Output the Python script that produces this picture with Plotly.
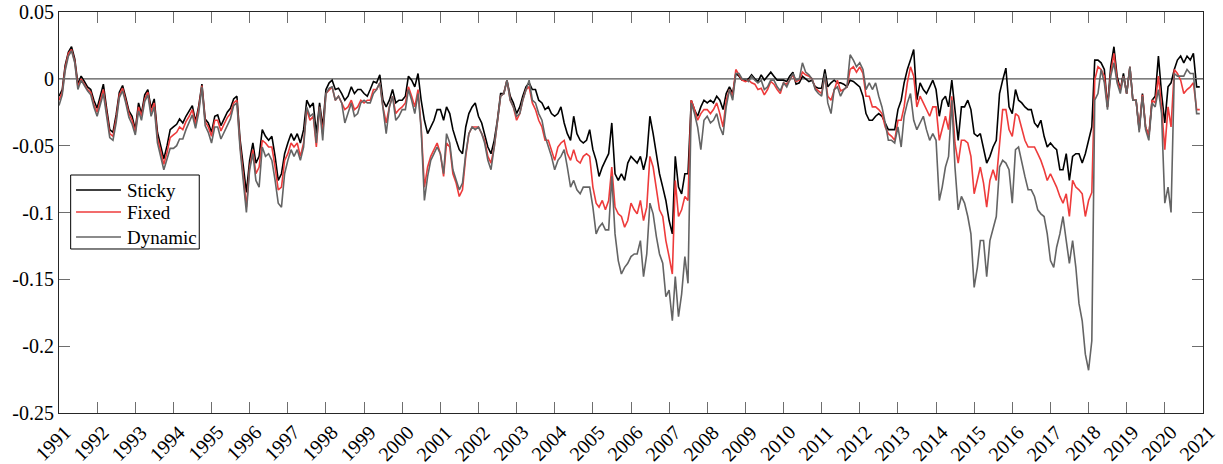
import pandas as pd
import plotly.graph_objects as go

# Monthly observations, Jan 1991 - Dec 2020
dates = pd.date_range("1991-01-01", periods=360, freq="MS")

sticky = [
    # 1991
    -0.013, -0.008, 0.010, 0.020, 0.024, 0.015, -0.004, 0.002, -0.002, -0.006, -0.008, -0.016,
    # 1992
    -0.022, -0.012, -0.004, -0.022, -0.038, -0.040, -0.027, -0.010, -0.005, -0.014, -0.024, -0.028,
    # 1993
    -0.038, -0.018, -0.026, -0.012, -0.008, -0.022, -0.015, -0.040, -0.050, -0.060, -0.050, -0.038,
    # 1994
    -0.036, -0.034, -0.030, -0.033, -0.028, -0.024, -0.020, -0.032, -0.020, -0.004, -0.030, -0.033,
    # 1995
    -0.040, -0.028, -0.027, -0.035, -0.030, -0.025, -0.022, -0.015, -0.013, -0.045, -0.065, -0.085,
    # 1996
    -0.061, -0.048, -0.063, -0.058, -0.038, -0.043, -0.046, -0.043, -0.058, -0.076, -0.071, -0.056,
    # 1997
    -0.048, -0.041, -0.046, -0.041, -0.048, -0.038, -0.016, -0.021, -0.018, -0.041, -0.018, -0.036,
    # 1998
    -0.008, -0.003, -0.001, -0.008, -0.007, -0.011, -0.016, -0.013, -0.006, -0.011, -0.008, -0.008,
    # 1999
    -0.011, -0.013, -0.008, -0.002, -0.003, 0.003, -0.016, -0.021, -0.016, -0.008, -0.018, -0.016,
    # 2000
    -0.016, -0.013, 0.002, -0.001, -0.006, 0.004, -0.016, -0.031, -0.041, -0.036, -0.031, -0.023,
    # 2001
    -0.023, -0.031, -0.021, -0.026, -0.038, -0.046, -0.053, -0.056, -0.036, -0.026, -0.021, -0.018,
    # 2002
    -0.028, -0.033, -0.041, -0.051, -0.056, -0.046, -0.031, -0.011, -0.011, -0.001, -0.013, -0.018,
    # 2003
    -0.026, -0.021, -0.013, -0.006, -0.003, -0.008, -0.008, -0.016, -0.018, -0.023, -0.021, -0.026,
    # 2004
    -0.028, -0.026, -0.021, -0.033, -0.041, -0.046, -0.028, -0.041, -0.046, -0.048, -0.046, -0.038,
    # 2005
    -0.053, -0.061, -0.073, -0.066, -0.061, -0.056, -0.033, -0.071, -0.076, -0.071, -0.076, -0.063,
    # 2006
    -0.058, -0.061, -0.063, -0.058, -0.068, -0.058, -0.028, -0.041, -0.058, -0.071, -0.081, -0.091,
    # 2007
    -0.106, -0.116, -0.058, -0.081, -0.086, -0.071, -0.071, -0.016, -0.023, -0.028, -0.021, -0.016,
    # 2008
    -0.018, -0.016, -0.018, -0.013, -0.016, -0.023, -0.011, -0.006, -0.011, 0.004, 0.002, -0.001,
    # 2009
    -0.001, 0.000, 0.003, 0.000, -0.002, 0.003, -0.001, 0.002, 0.005, 0.002, -0.001, -0.001,
    # 2010
    -0.001, -0.002, 0.002, 0.005, -0.004, -0.003, 0.002, 0.000, -0.002, -0.001, -0.006, -0.007,
    # 2011
    -0.007, 0.007, -0.006, -0.003, -0.001, -0.003, -0.003, -0.004, -0.006, -0.001, -0.002, -0.004,
    # 2012
    -0.006, -0.013, -0.026, -0.031, -0.031, -0.028, -0.026, -0.028, -0.033, -0.038, -0.038, -0.038,
    # 2013
    -0.023, -0.016, -0.003, 0.007, 0.014, 0.022, -0.016, -0.003, -0.008, -0.011, -0.006, -0.001,
    # 2014
    -0.008, -0.028, -0.016, -0.013, -0.021, -0.001, -0.023, -0.046, -0.021, -0.021, -0.016, -0.023,
    # 2015
    -0.041, -0.043, -0.041, -0.051, -0.063, -0.058, -0.051, -0.046, -0.011, -0.001, 0.008, -0.021,
    # 2016
    -0.026, -0.008, -0.016, -0.018, -0.021, -0.023, -0.023, -0.033, -0.036, -0.031, -0.043, -0.051,
    # 2017
    -0.048, -0.051, -0.053, -0.068, -0.068, -0.056, -0.076, -0.058, -0.056, -0.056, -0.063, -0.056,
    # 2018
    -0.046, -0.036, 0.014, 0.014, 0.012, 0.007, -0.021, 0.009, 0.024, 0.002, -0.008, 0.004,
    # 2019
    -0.011, 0.009, -0.016, -0.016, -0.038, -0.011, -0.036, -0.043, -0.016, -0.013, 0.017, -0.011,
    # 2020
    -0.033, -0.006, -0.003, 0.007, 0.014, 0.017, 0.012, 0.017, 0.014, 0.019, -0.006, -0.006,
]

fixed = [
    # 1991
    -0.016, -0.010, 0.008, 0.019, 0.022, 0.013, -0.006, 0.000, -0.004, -0.008, -0.010, -0.019,
    # 1992
    -0.025, -0.016, -0.008, -0.025, -0.041, -0.043, -0.030, -0.012, -0.007, -0.016, -0.026, -0.031,
    # 1993
    -0.040, -0.021, -0.028, -0.015, -0.010, -0.025, -0.018, -0.044, -0.054, -0.064, -0.055, -0.044,
    # 1994
    -0.042, -0.040, -0.036, -0.038, -0.032, -0.028, -0.023, -0.034, -0.022, -0.005, -0.032, -0.036,
    # 1995
    -0.043, -0.031, -0.031, -0.039, -0.034, -0.029, -0.026, -0.018, -0.016, -0.049, -0.072, -0.096,
    # 1996
    -0.066, -0.053, -0.071, -0.066, -0.046, -0.048, -0.051, -0.051, -0.066, -0.083, -0.081, -0.061,
    # 1997
    -0.056, -0.048, -0.051, -0.048, -0.058, -0.048, -0.023, -0.031, -0.028, -0.051, -0.021, -0.041,
    # 1998
    -0.011, -0.008, -0.006, -0.016, -0.013, -0.018, -0.023, -0.021, -0.016, -0.023, -0.021, -0.016,
    # 1999
    -0.018, -0.016, -0.016, -0.008, -0.008, -0.003, -0.021, -0.033, -0.021, -0.013, -0.026, -0.023,
    # 2000
    -0.021, -0.018, -0.006, -0.013, -0.021, -0.008, -0.036, -0.081, -0.066, -0.058, -0.053, -0.048,
    # 2001
    -0.056, -0.073, -0.048, -0.051, -0.071, -0.078, -0.088, -0.083, -0.058, -0.041, -0.036, -0.036,
    # 2002
    -0.036, -0.041, -0.046, -0.058, -0.063, -0.051, -0.031, -0.013, -0.011, -0.001, -0.016, -0.021,
    # 2003
    -0.031, -0.026, -0.016, -0.008, -0.006, -0.018, -0.023, -0.031, -0.036, -0.046, -0.046, -0.053,
    # 2004
    -0.061, -0.051, -0.048, -0.046, -0.056, -0.061, -0.053, -0.061, -0.063, -0.058, -0.056, -0.058,
    # 2005
    -0.081, -0.093, -0.096, -0.091, -0.098, -0.091, -0.066, -0.096, -0.101, -0.103, -0.111, -0.106,
    # 2006
    -0.093, -0.098, -0.101, -0.091, -0.106, -0.096, -0.058, -0.066, -0.083, -0.098, -0.103, -0.121,
    # 2007
    -0.133, -0.146, -0.076, -0.103, -0.098, -0.088, -0.091, -0.016, -0.023, -0.031, -0.026, -0.023,
    # 2008
    -0.023, -0.026, -0.023, -0.018, -0.026, -0.036, -0.016, -0.008, -0.013, 0.007, 0.003, -0.001,
    # 2009
    -0.002, -0.001, -0.003, -0.004, -0.008, -0.007, -0.012, -0.008, -0.002, -0.004, -0.008, -0.011,
    # 2010
    -0.003, -0.004, -0.001, 0.003, -0.002, -0.001, 0.005, 0.003, 0.002, 0.000, -0.007, -0.009,
    # 2011
    -0.011, 0.002, -0.013, -0.016, -0.008, -0.001, -0.009, -0.008, -0.006, 0.007, 0.009, 0.005,
    # 2012
    0.009, 0.004, -0.013, -0.013, -0.021, -0.021, -0.023, -0.026, -0.036, -0.041, -0.043, -0.046,
    # 2013
    -0.031, -0.031, -0.021, -0.003, 0.009, 0.002, -0.021, -0.013, -0.018, -0.023, -0.028, -0.021,
    # 2014
    -0.021, -0.046, -0.038, -0.028, -0.038, -0.013, -0.048, -0.063, -0.046, -0.046, -0.048, -0.058,
    # 2015
    -0.086, -0.076, -0.066, -0.078, -0.096, -0.076, -0.068, -0.076, -0.046, -0.023, -0.023, -0.038,
    # 2016
    -0.043, -0.026, -0.028, -0.038, -0.046, -0.051, -0.051, -0.051, -0.056, -0.061, -0.068, -0.076,
    # 2017
    -0.071, -0.076, -0.081, -0.088, -0.093, -0.086, -0.103, -0.076, -0.081, -0.083, -0.086, -0.103,
    # 2018
    -0.091, -0.085, -0.001, 0.009, 0.007, 0.002, -0.021, 0.004, 0.019, -0.001, -0.008, 0.002,
    # 2019
    -0.011, 0.009, -0.016, -0.016, -0.038, -0.012, -0.036, -0.043, -0.016, -0.018, 0.002, -0.021,
    # 2020
    -0.053, -0.021, -0.036, 0.007, 0.004, -0.001, -0.011, -0.008, -0.006, -0.003, -0.023, -0.023,
]

dynamic = [
    # 1991
    -0.020, -0.012, 0.006, 0.017, 0.021, 0.012, -0.008, -0.001, -0.005, -0.009, -0.012, -0.021,
    # 1992
    -0.028, -0.019, -0.011, -0.028, -0.044, -0.046, -0.033, -0.014, -0.009, -0.018, -0.029, -0.034,
    # 1993
    -0.042, -0.024, -0.031, -0.017, -0.012, -0.028, -0.021, -0.048, -0.058, -0.068, -0.060, -0.052,
    # 1994
    -0.052, -0.050, -0.045, -0.045, -0.038, -0.033, -0.027, -0.037, -0.025, -0.006, -0.035, -0.040,
    # 1995
    -0.048, -0.036, -0.036, -0.045, -0.040, -0.035, -0.030, -0.020, -0.018, -0.052, -0.076, -0.100,
    # 1996
    -0.068, -0.056, -0.076, -0.081, -0.051, -0.058, -0.056, -0.061, -0.076, -0.093, -0.096, -0.071,
    # 1997
    -0.061, -0.053, -0.058, -0.053, -0.061, -0.051, -0.021, -0.028, -0.026, -0.048, -0.021, -0.046,
    # 1998
    -0.011, -0.007, -0.006, -0.016, -0.013, -0.018, -0.033, -0.026, -0.018, -0.028, -0.026, -0.018,
    # 1999
    -0.016, -0.018, -0.018, -0.011, -0.008, -0.003, -0.021, -0.041, -0.021, -0.013, -0.031, -0.028,
    # 2000
    -0.023, -0.023, -0.008, -0.016, -0.026, -0.011, -0.038, -0.091, -0.073, -0.061, -0.056, -0.051,
    # 2001
    -0.056, -0.071, -0.041, -0.048, -0.068, -0.076, -0.083, -0.078, -0.056, -0.041, -0.036, -0.038,
    # 2002
    -0.036, -0.041, -0.048, -0.061, -0.068, -0.051, -0.031, -0.013, -0.011, -0.001, -0.016, -0.021,
    # 2003
    -0.028, -0.026, -0.016, -0.008, -0.001, -0.016, -0.018, -0.026, -0.031, -0.043, -0.051, -0.058,
    # 2004
    -0.068, -0.061, -0.058, -0.053, -0.066, -0.081, -0.076, -0.083, -0.086, -0.081, -0.081, -0.081,
    # 2005
    -0.096, -0.116, -0.111, -0.108, -0.113, -0.113, -0.073, -0.116, -0.136, -0.146, -0.141, -0.138,
    # 2006
    -0.133, -0.131, -0.131, -0.121, -0.148, -0.131, -0.093, -0.101, -0.118, -0.131, -0.138, -0.163,
    # 2007
    -0.158, -0.181, -0.148, -0.178, -0.161, -0.133, -0.153, -0.018, -0.026, -0.036, -0.053, -0.031,
    # 2008
    -0.028, -0.033, -0.031, -0.026, -0.036, -0.042, -0.021, -0.008, -0.016, 0.004, 0.004, 0.000,
    # 2009
    0.000, -0.002, 0.002, -0.001, -0.003, -0.001, -0.008, -0.006, -0.001, -0.001, -0.006, -0.009,
    # 2010
    -0.003, -0.006, -0.001, 0.004, -0.001, 0.000, 0.012, 0.005, 0.003, 0.000, -0.008, -0.011,
    # 2011
    -0.013, 0.004, -0.018, -0.026, -0.008, -0.006, -0.013, -0.008, -0.006, 0.018, 0.014, 0.009,
    # 2012
    0.012, 0.007, -0.008, -0.003, -0.008, -0.003, -0.013, -0.021, -0.033, -0.046, -0.046, -0.048,
    # 2013
    -0.036, -0.051, -0.028, -0.018, -0.011, -0.031, -0.038, -0.033, -0.028, -0.038, -0.046, -0.041,
    # 2014
    -0.046, -0.091, -0.081, -0.066, -0.058, -0.016, -0.066, -0.098, -0.088, -0.093, -0.103, -0.116,
    # 2015
    -0.156, -0.141, -0.121, -0.121, -0.148, -0.121, -0.113, -0.103, -0.066, -0.061, -0.063, -0.068,
    # 2016
    -0.093, -0.053, -0.051, -0.063, -0.073, -0.083, -0.083, -0.088, -0.098, -0.101, -0.103, -0.116,
    # 2017
    -0.136, -0.141, -0.126, -0.116, -0.103, -0.121, -0.138, -0.121, -0.141, -0.168, -0.181, -0.206,
    # 2018
    -0.218, -0.196, -0.016, -0.011, 0.007, -0.003, -0.023, 0.002, 0.012, -0.003, -0.011, 0.002,
    # 2019
    -0.011, 0.009, -0.016, -0.016, -0.040, -0.013, -0.038, -0.046, -0.018, -0.021, -0.008, -0.026,
    # 2020
    -0.093, -0.081, -0.100, 0.004, 0.002, 0.002, 0.002, 0.007, 0.004, 0.004, -0.026, -0.026,
]

series_names = ["Sticky", "Fixed", "Dynamic"]
series_colors = ["#000000", "#ee3b3b", "#646464"]

year_ticks = list(range(1991, 2022))
y_tickvals = [0.05, 0.0, -0.05, -0.1, -0.15, -0.2, -0.25]
y_ticktext = ["0.05", "0", "-0.05", "-0.1", "-0.15", "-0.2", "-0.25"]

FONT = "Liberation Serif"

fig = go.Figure()
for name, values, color in zip(series_names, [sticky, fixed, dynamic], series_colors):
    fig.add_trace(go.Scatter(
        x=dates, y=values, name=name, mode="lines",
        line=dict(color=color, width=1.6), showlegend=False,
    ))

axis_common = dict(
    showline=True, linecolor="#262626", linewidth=1, mirror="allticks",
    ticks="inside", ticklen=11, tickwidth=1, tickcolor="#6e6e6e",
    showgrid=False, zeroline=False, automargin=False,
    tickfont=dict(family=FONT, size=20, color="#000000"),
)

year_dates = [f"{y}-01-01" for y in year_ticks]
fig.update_xaxes(
    range=["1991-01-01", "2021-01-01"],
    tickvals=year_dates,
    showticklabels=False,
    **axis_common,
)
fig.update_yaxes(
    range=[-0.25, 0.05],
    tickvals=y_tickvals,
    ticktext=y_ticktext,
    **axis_common,
)

# Year labels, rotated 45 degrees and centred just below each tick
for y, d in zip(year_ticks, year_dates):
    fig.add_annotation(x=d, xref="x", y=-0.075, yref="paper",
                       text=str(y), textangle=-45, showarrow=False,
                       xanchor="center", yanchor="middle", xshift=-6,
                       font=dict(family=FONT, size=20, color="#000000"))

# Reference line at zero
fig.add_shape(type="line", xref="paper", x0=0, x1=1, yref="y", y0=0, y1=0,
              line=dict(color="#555555", width=1.3), layer="below")

# Boxed legend in the lower-left of the axes (paper coordinates)
fig.add_shape(type="rect", xref="paper", yref="paper",
              x0=0.0102, x1=0.1226, y0=0.409, y1=0.5935,
              line=dict(color="#000000", width=1), fillcolor="white", layer="above")
legend_rows = [0.5561, 0.5012, 0.4389]
for name, color, ly in zip(series_names, series_colors, legend_rows):
    fig.add_shape(type="line", xref="paper", yref="paper",
                  x0=0.0149, x1=0.0542, y0=ly, y1=ly,
                  line=dict(color=color, width=1.6), layer="above")
    fig.add_annotation(xref="paper", yref="paper", x=0.0577, y=ly,
                       xanchor="left", yanchor="middle", showarrow=False,
                       text=name, font=dict(family=FONT, size=19, color="#000000"))

fig.update_layout(
    width=1223, height=464,
    margin=dict(l=59, r=20, t=12, b=51),
    paper_bgcolor="white", plot_bgcolor="white",
    font=dict(family=FONT, color="#000000"),
    showlegend=False,
)

fig.write_html("out.html")
